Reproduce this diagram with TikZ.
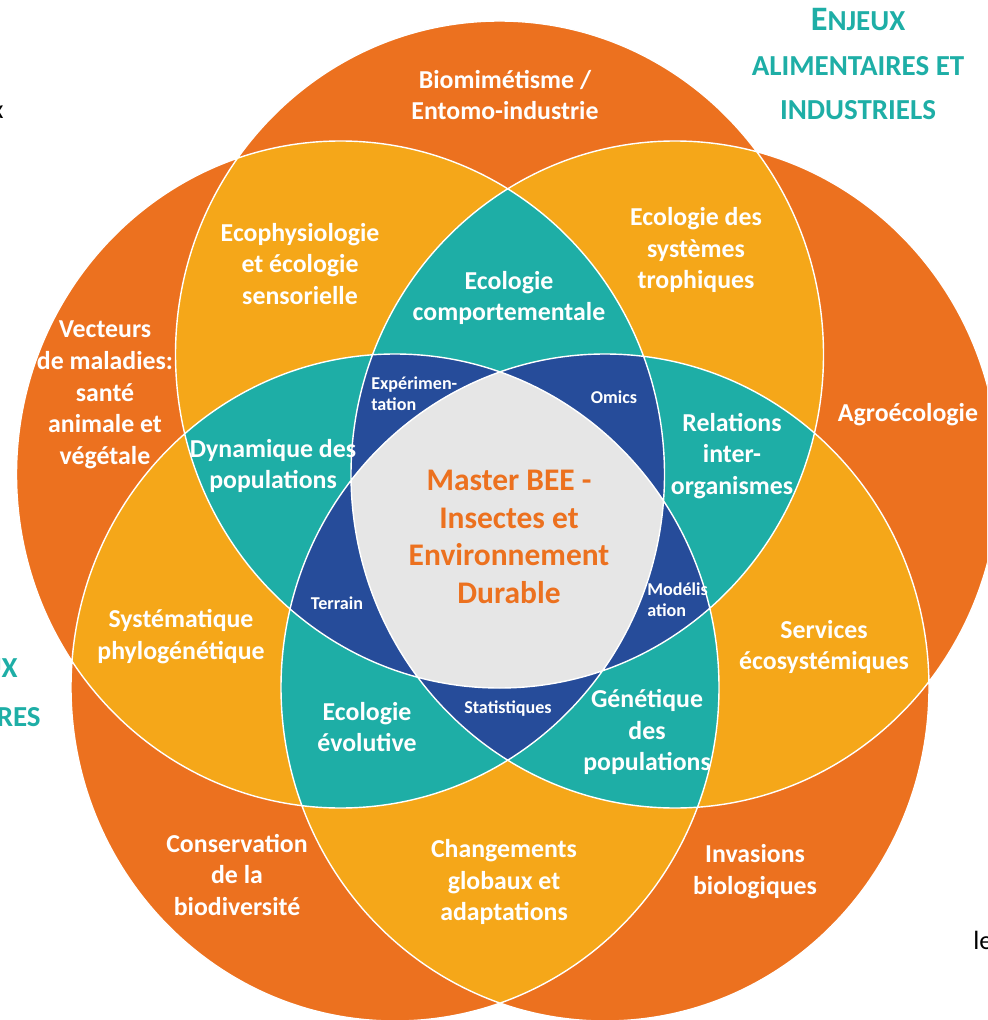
\documentclass[tikz,border=0pt]{standalone}
\usepackage{fontspec}
\setmainfont{Carlito}
\usepackage{tikz}
\definecolor{beeorange}{RGB}{236,113,31}
\definecolor{beegold}{RGB}{245,167,25}
\definecolor{beeteal}{RGB}{30,174,166}
\definecolor{beeblue}{RGB}{38,76,154}
\definecolor{beegrey}{RGB}{230,230,230}
\def\ring(#1){(#1) circle [x radius=324, y radius=333.5]}
\tikzset{topic/.style={text=white, align=center, inner sep=0pt, font=\bfseries\fontsize{14.7}{18.1}\selectfont},
	tool/.style={text=white, align=left, inner sep=0pt, font=\bfseries\fontsize{10.3}{12}\selectfont},
	stake/.style={text=beeteal, inner sep=0pt, font=\bfseries\fontsize{16.5}{20}\selectfont},
	scrap/.style={text=black, inner sep=0pt, font=\fontsize{15}{18}\selectfont}}

\begin{document}
\begin{tikzpicture}[x=0.02cm, y=-0.02cm]
	%%%%% START %%%%%
	\useasboundingbox (0, 0) rectangle (987, 1020);
	\clip (0, 0) rectangle (987, 1020);
	
	\coordinate (T) at (499.5, 354.5);
	\coordinate (UL) at (340.5, 474.5);
	\coordinate (UR) at (675, 474.5);
	\coordinate (LL) at (395, 687.5);
	\coordinate (LR) at (605, 687.5);
	
	% one circle
	\fill[beeorange] \ring(T) \ring(UL) \ring(UR) \ring(LL) \ring(LR);
	
	% two circles
	\begin{scope} \clip \ring(T); \fill[beegold] \ring(UL) \ring(UR) \ring(LL) \ring(LR); \end{scope}
	\begin{scope} \clip \ring(UL); \fill[beegold] \ring(UR) \ring(LL) \ring(LR); \end{scope}
	\begin{scope} \clip \ring(UR); \fill[beegold] \ring(LL) \ring(LR); \end{scope}
	\begin{scope} \clip \ring(LL); \fill[beegold] \ring(LR); \end{scope}
	
	% three circles
	\begin{scope} \clip \ring(T); \clip \ring(UL); \fill[beeteal] \ring(UR) \ring(LL) \ring(LR); \end{scope}
	\begin{scope} \clip \ring(T); \clip \ring(UR); \fill[beeteal] \ring(LL) \ring(LR); \end{scope}
	\begin{scope} \clip \ring(T); \clip \ring(LL); \fill[beeteal] \ring(LR); \end{scope}
	\begin{scope} \clip \ring(UL); \clip \ring(UR); \fill[beeteal] \ring(LL) \ring(LR); \end{scope}
	\begin{scope} \clip \ring(UL); \clip \ring(LL); \fill[beeteal] \ring(LR); \end{scope}
	\begin{scope} \clip \ring(UR); \clip \ring(LL); \fill[beeteal] \ring(LR); \end{scope}
	
	% four circles
	\begin{scope} \clip \ring(T); \clip \ring(UL); \clip \ring(UR); \fill[beeblue] \ring(LL) \ring(LR); \end{scope}
	\begin{scope} \clip \ring(T); \clip \ring(UL); \clip \ring(LL); \fill[beeblue] \ring(LR); \end{scope}
	\begin{scope} \clip \ring(T); \clip \ring(UR); \clip \ring(LL); \fill[beeblue] \ring(LR); \end{scope}
	\begin{scope} \clip \ring(UL); \clip \ring(UR); \clip \ring(LL); \fill[beeblue] \ring(LR); \end{scope}
	
	% all five
	\begin{scope} \clip \ring(T); \clip \ring(UL); \clip \ring(UR); \clip \ring(LL); \fill[beegrey] \ring(LR); \end{scope}
	
	\draw[white, line width=0.8pt] \ring(T) \ring(UL) \ring(UR) \ring(LL) \ring(LR);
	
	\node[topic] (biomim) at (505, 95) {Biomimétisme /\\Entomo-industrie};
	\node[topic] (ecophy) at (300, 264) {Ecophysiologie\\et écologie\\sensorielle};
	\node[topic] (troph) at (696, 250) {Ecologie des\\systèmes\\trophiques};
	\node[topic] (comport) at (509, 298) {Ecologie\\comportementale};
	\node[topic] (vecteurs) at (105, 395) {Vecteurs\\de maladies:\\santé\\animale et\\végétale};
	\node[topic] (agro) at (908, 415) {Agroécologie};
	\node[topic] (dynam) at (273, 466) {Dynamique des\\populations};
	\node[topic] (relat) at (732, 456) {Relations\\inter-\\organismes};
	\node[topic] (systm) at (181, 637) {Systématique\\phylogénétique};
	\node[topic] (servic) at (824, 647) {Services\\écosystémiques};
	\node[topic] (evol) at (367, 727) {Ecologie\\évolutive};
	\node[topic] (genet) at (647, 732) {Génétique\\des\\populations};
	\node[topic] (conserv) at (237, 875) {Conservation\\de la\\biodiversité};
	\node[topic] (change) at (504, 882) {Changements\\globaux et\\adaptations};
	\node[topic] (invas) at (755, 872) {Invasions\\biologiques};
	
	\node[tool, anchor=west] (exper) at (371, 393.5) {Expérimen-\\tation};
	\node[tool] (omics) at (614, 397) {Omics};
	\node[tool] (terrain) at (337, 603) {Terrain};
	\node[tool, anchor=west] (model) at (647, 600) {Modélis\\ation};
	\node[tool] (stats) at (508, 709) {Statistiques};
	
	\node[text=beeorange, align=center, font=\bfseries\fontsize{17.9}{21.5}\selectfont] (master) at (509, 537) {Master BEE -\\Insectes et\\Environnement\\Durable};
	
	\node[stake] (enjeux) at (858, 20) {{\fontsize{19.5}{20}\selectfont E}NJEUX};
	\node[stake] (alim) at (858, 66) {ALIMENTAIRES ET};
	\node[stake] (indus) at (858, 110) {INDUSTRIELS};
	\node[stake, anchor=east] (enjeuxcut) at (18, 668) {UX};
	\node[stake, anchor=east] (sanitcut) at (41, 717) {RES};
	\node[scrap, anchor=east] (xcut) at (4, 112) {x};
	\node[scrap, anchor=west] (lecut) at (973, 940) {le};
	
	%%%%% END %%%%%
\end{tikzpicture}
\end{document}
